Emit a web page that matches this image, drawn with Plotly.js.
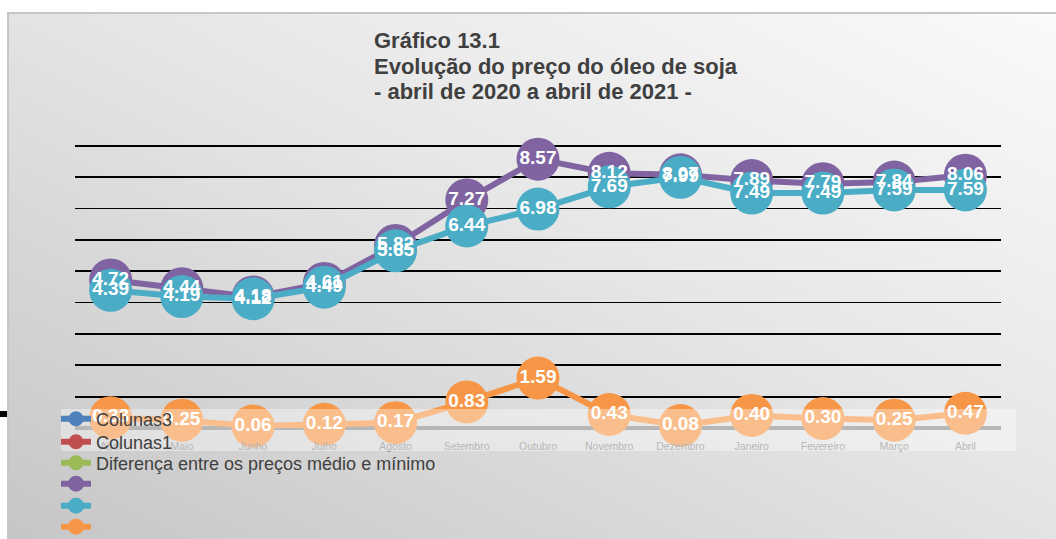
<!DOCTYPE html>
<html><head><meta charset="utf-8">
<script src="https://cdn.plot.ly/plotly-3.0.1.min.js"></script>
<style>
html,body{margin:0;padding:0;background:#fff;}
#wrap{position:relative;width:1056px;height:539px;overflow:hidden;}
#bg{position:absolute;left:7px;top:12px;right:0;bottom:0;border-top:2px solid #c6c6c6;border-left:2px solid #c6c6c6;background:linear-gradient(to bottom left,#fafafa 0%,#e6e6e6 45%,#c6c6c6 100%);}
#chart{position:absolute;left:0;top:0;width:1056px;height:539px;}
</style></head><body>
<div id="wrap"><div id="bg"></div><div id="chart"></div></div>
<script>
const months = ['Abril','Maio','Junho','Julho','Agosto','Setembro','Outubro','Novembro','Dezembro','Janeiro','Fevereiro','Março','Abril'];
const precoMedio  = [4.72,4.44,4.18,4.61,5.82,7.27,8.57,8.12,8.07,7.89,7.79,7.84,8.06];
const precoMinimo = [4.39,4.19,4.12,4.49,5.65,6.44,6.98,7.69,7.99,7.49,7.49,7.59,7.59];
const diferenca   = [0.33,0.25,0.06,0.12,0.17,0.83,1.59,0.43,0.08,0.40,0.30,0.25,0.47];
const legendNames = ['Colunas3','Colunas1','Diferença entre os preços médio e mínimo',' ',' ',' '];
const colors = ['#4f81bd','#c0504d','#9bbb59','#8064a2','#4bacc6','#f79646'];
const titleLines = ['Gráfico 13.1','Evolução do preço do óleo de soja','- abril de 2020 a abril de 2021 -'];

const FONT = 'Liberation Sans, Arial, sans-serif';
const W = 1056, H = 539;
const M = {l:75, r:55, t:130, b:111, autoexpand:false};
const PW = W - M.l - M.r, PH = H - M.t - M.b;
const px2x = p => (p - M.l) / PW;
const py2y = p => (H - M.b - p) / PH;
const xs = months.map((_, i) => i);
const legendRows = [419, 442, 463, 484, 506, 527];
const titleRows = [41, 66, 91];
const legKey = i => i === 0 ? 'legend' : 'legend' + (i + 1);

const traces = [];
for (let i = 0; i < 3; i++) {
  traces.push({x:[null], y:[null], type:'scatter', mode:'lines+markers', name:legendNames[i],
    legend:legKey(i), line:{color:colors[i], width:6}, marker:{color:colors[i], size:15}, hoverinfo:'skip'});
}
const series = [precoMedio, precoMinimo, diferenca];
series.forEach((s, k) => {
  const i = k + 3;
  traces.push({x:xs, y:s, type:'scatter', mode:'lines+markers', name:legendNames[i], legend:legKey(i),
    line:{color:colors[i], width:6}, marker:{color:colors[i], size:43}, cliponaxis:false, hoverinfo:'skip'});
});
series.forEach((s) => {
  traces.push({x:xs, y:s, type:'scatter', mode:'text', showlegend:false, cliponaxis:false,
    texttemplate:'%{y:.2f}', textposition:'middle center',
    textfont:{family:FONT, size:19, color:'#ffffff', weight:'bold'}, hoverinfo:'skip'});
});

const layout = {
  width:W, height:H, margin:M,
  paper_bgcolor:'rgba(0,0,0,0)', plot_bgcolor:'rgba(0,0,0,0)',
  showlegend:true,
  xaxis:{range:[-0.5, 12.5], tickvals:xs, ticktext:months, tickangle:0, showgrid:false, zeroline:false, showline:false,
    ticks:'outside', ticklen:8, tickcolor:'rgba(0,0,0,0)',
    tickfont:{family:FONT, size:10.5, color:'#8a8a8a'}, fixedrange:true},
  yaxis:{range:[0, 9.5], dtick:1, showticklabels:false, showgrid:true, gridcolor:'#000000', gridwidth:1.8,
    zeroline:true, zerolinecolor:'#8c8c8c', zerolinewidth:4, showline:false, fixedrange:true},
  annotations: titleLines.map((t, i) => ({text:t, xref:'paper', yref:'paper', x:px2x(372), y:py2y(titleRows[i]),
    xanchor:'left', yanchor:'middle', showarrow:false,
    font:{family:FONT, size:22, color:'#3f3f3f', weight:'bold'}})),
  shapes:[
    {type:'rect', xref:'paper', yref:'paper', layer:'above',
     x0:px2x(61), x1:px2x(1016), y0:py2y(451), y1:py2y(409),
     fillcolor:'rgba(255,255,255,0.38)', line:{width:0}},
    {type:'rect', xref:'paper', yref:'paper', layer:'above',
     x0:px2x(0), x1:px2x(7), y0:py2y(417), y1:py2y(411),
     fillcolor:'#000000', line:{width:0}}
  ]
};
legendRows.forEach((ry, i) => {
  layout[legKey(i)] = {x:56/W, xref:'container', xanchor:'left', y:1-ry/H, yref:'container', yanchor:'middle',
    bgcolor:'rgba(0,0,0,0)', borderwidth:0, font:{family:FONT, size:18, color:'#404040'}};
});

Plotly.newPlot('chart', traces, layout, {displayModeBar:false, staticPlot:true});
</script>
</body></html>
